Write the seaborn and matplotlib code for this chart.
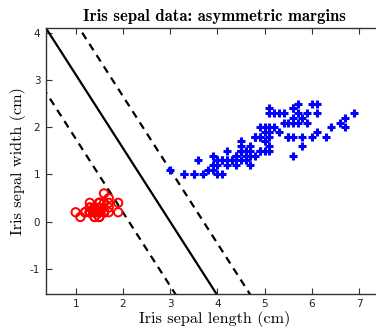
import matplotlib
matplotlib.use("Agg")
import matplotlib.pyplot as plt
import numpy as np
import pandas as pd
import seaborn as sns

# iris petal measurements (cm): setosa vs. the other two species
setosa_len = [1.4, 1.4, 1.3, 1.5, 1.4, 1.7, 1.4, 1.5, 1.4, 1.5, 1.5, 1.6, 1.4, 1.1, 1.2, 1.5, 1.3,
              1.4, 1.7, 1.5, 1.7, 1.5, 1.0, 1.7, 1.9, 1.6, 1.6, 1.5, 1.4, 1.6, 1.6, 1.5, 1.5, 1.4,
              1.5, 1.2, 1.3, 1.4, 1.3, 1.5, 1.3, 1.3, 1.3, 1.6, 1.9, 1.4, 1.6, 1.4, 1.5, 1.4]
setosa_wid = [0.2, 0.2, 0.2, 0.2, 0.2, 0.4, 0.3, 0.2, 0.2, 0.1, 0.2, 0.2, 0.1, 0.1, 0.2, 0.4, 0.4,
              0.3, 0.3, 0.3, 0.2, 0.4, 0.2, 0.5, 0.2, 0.2, 0.4, 0.2, 0.2, 0.2, 0.2, 0.4, 0.1, 0.2,
              0.2, 0.2, 0.2, 0.1, 0.2, 0.2, 0.3, 0.3, 0.2, 0.6, 0.4, 0.3, 0.2, 0.2, 0.2, 0.2]
other_len = [4.7, 4.5, 4.9, 4.0, 4.6, 4.5, 4.7, 3.3, 4.6, 3.9, 3.5, 4.2, 4.0, 4.7, 3.6, 4.4, 4.5,
             4.1, 4.5, 3.9, 4.8, 4.0, 4.9, 4.7, 4.3, 4.4, 4.8, 5.0, 4.5, 3.5, 3.8, 3.7, 3.9, 5.1,
             4.5, 4.5, 4.7, 4.4, 4.1, 4.0, 4.4, 4.6, 4.0, 3.3, 4.2, 4.2, 4.2, 4.3, 3.0, 4.1,
             6.0, 5.1, 5.9, 5.6, 5.8, 6.6, 4.5, 6.3, 5.8, 6.1, 5.1, 5.3, 5.5, 5.0, 5.1, 5.3, 5.5,
             6.7, 6.9, 5.0, 5.7, 4.9, 6.7, 4.9, 5.7, 6.0, 4.8, 4.9, 5.6, 5.8, 6.1, 6.4, 5.6, 5.1,
             5.6, 6.1, 5.6, 5.5, 4.8, 5.4, 5.6, 5.1, 5.1, 5.9, 5.7, 5.2, 5.0, 5.2, 5.4, 5.1]
other_wid = [1.4, 1.5, 1.5, 1.3, 1.5, 1.3, 1.6, 1.0, 1.3, 1.4, 1.0, 1.5, 1.0, 1.4, 1.3, 1.4, 1.5,
             1.0, 1.5, 1.1, 1.8, 1.3, 1.5, 1.2, 1.3, 1.4, 1.4, 1.7, 1.5, 1.0, 1.1, 1.0, 1.2, 1.6,
             1.5, 1.6, 1.5, 1.3, 1.3, 1.3, 1.2, 1.4, 1.2, 1.0, 1.3, 1.2, 1.3, 1.3, 1.1, 1.3,
             2.5, 1.9, 2.1, 1.8, 2.2, 2.1, 1.7, 1.8, 1.8, 2.5, 2.0, 1.9, 2.1, 2.0, 2.4, 2.3, 1.8,
             2.2, 2.3, 1.5, 2.3, 2.0, 2.0, 1.8, 2.1, 1.8, 1.8, 1.8, 2.1, 1.6, 1.9, 2.0, 2.2, 1.5,
             1.4, 2.3, 2.4, 1.8, 1.8, 2.1, 2.4, 2.3, 1.9, 2.3, 2.5, 2.3, 1.9, 2.0, 2.3, 1.8]

# separating line y = slope*x + intercept, plus the two (asymmetric) margins
slope = -1.56
intercept_mid = 4.68
intercept_margins = [5.78, 3.32]

x_ticks = [1, 2, 3, 4, 5, 6, 7]
y_ticks = [-1, 0, 1, 2, 3, 4]

sns.set_style("ticks")
plt.rcParams["axes.unicode_minus"] = False

fig = plt.figure(figsize=(3.76, 3.31), dpi=100)
ax = fig.add_axes([0.122, 0.112, 0.896, 0.803])

df_a = pd.DataFrame({"len": setosa_len, "wid": setosa_wid})
df_b = pd.DataFrame({"len": other_len, "wid": other_wid})

xs = np.array([0.0, 8.0])
ax.plot(xs, slope * xs + intercept_mid, color="black", lw=1.6, zorder=2)
for c in intercept_margins:
    ax.plot(xs, slope * xs + c, color="black", lw=1.6, dashes=(3.4, 2.6), zorder=2)

sns.scatterplot(data=df_a, x="len", y="wid", ax=ax, marker="o", s=36,
                facecolor="none", edgecolor="#ff0000", linewidth=1.4, zorder=3)
sns.scatterplot(data=df_b, x="len", y="wid", ax=ax, marker="+", s=32,
                color="#0000ff", linewidth=2.2, zorder=3)

ax.set_xlim(0.37, 7.5)
ax.set_ylim(-1.53, 4.1)
ax.set_xticks(x_ticks)
ax.set_yticks(y_ticks)
ax.tick_params(direction="in", length=4, width=0.8, color="#333333",
               labelsize=7.5, labelcolor="#222222", top=True, right=False, pad=4)
for side in ("left", "bottom", "top"):
    ax.spines[side].set_color("#333333")
    ax.spines[side].set_linewidth(1.0)
ax.spines["right"].set_visible(False)

ax.set_xlabel("Iris sepal length (cm)", family="cmr10", fontsize=11.7, labelpad=1, color="black")
ax.set_ylabel("Iris sepal width (cm)", family="cmr10", fontsize=11.7, labelpad=3, color="black")
ax.set_title("Iris sepal data: asymmetric margins", family="cmb10", fontsize=12, pad=5,
             color="black")

fig.savefig("out.png", dpi=100)
